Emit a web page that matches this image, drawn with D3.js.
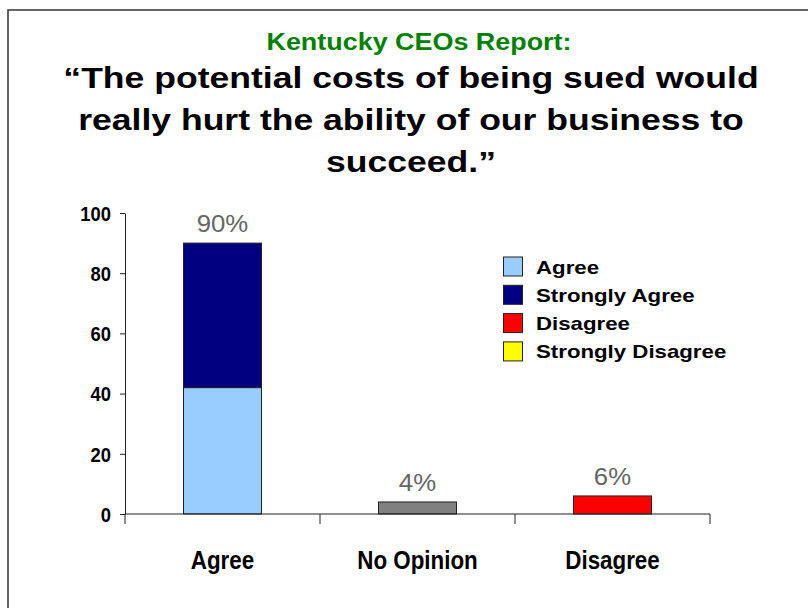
<!DOCTYPE html>
<html>
<head>
<meta charset="utf-8">
<script src="https://cdn.jsdelivr.net/npm/d3@7"></script>
<style>
  html, body { margin: 0; padding: 0; background: #fff; }
  svg { display: block; font-family: "Liberation Sans", Arial, Helvetica, sans-serif; }
</style>
</head>
<body>
<svg id="chart" width="808" height="608"></svg>
<script>
// Survey answers, percent of respondents
const categories = ["Agree", "No Opinion", "Disagree"];
const seriesNames = ["Agree", "Strongly Agree", "No Opinion", "Disagree", "Strongly Disagree"];
const agreeValues = [42, 0, 0];
const stronglyAgreeValues = [48, 0, 0];
const noOpinionValues = [0, 4, 0];
const disagreeValues = [0, 0, 6];
const stronglyDisagreeValues = [0, 0, 0];
const seriesColors = ["#99ccff", "#000080", "#808080", "#ff0000", "#ffff00"];
const legendNames = ["Agree", "Strongly Agree", "Disagree", "Strongly Disagree"];
const legendColors = ["#99ccff", "#000080", "#ff0000", "#ffff00"];
const yTicks = [0, 20, 40, 60, 80, 100];
const subtitle = "Kentucky CEOs Report:";
const titleLines = ["\u201CThe potential costs of being sued would",
                    "really hurt the ability of our business to",
                    "succeed.\u201D"];

const svg = d3.select("#chart");

// stretch or squeeze a text run horizontally by factor k
function widen(sel, k) {
  sel.each(function () {
    const w = this.getComputedTextLength();
    d3.select(this).attr("textLength", w * k).attr("lengthAdjust", "spacingAndGlyphs");
  });
}

// slide frame
svg.append("path")
  .attr("d", "M8,608 V10 H808")
  .attr("fill", "none")
  .attr("stroke", "#333")
  .attr("stroke-width", 1.5);

// headings
svg.append("text")
  .attr("x", 419).attr("y", 50)
  .attr("text-anchor", "middle")
  .attr("font-size", 23).attr("font-weight", "bold")
  .attr("fill", "#008000")
  .text(subtitle)
  .call(widen, 1.17);

svg.selectAll("text.title")
  .data(titleLines)
  .join("text")
  .attr("class", "title")
  .attr("x", 411)
  .attr("y", (d, i) => 88 + i * 42)
  .attr("text-anchor", "middle")
  .attr("font-size", 30).attr("font-weight", "bold")
  .attr("fill", "#000")
  .text(d => d)
  .call(widen, 1.185);

// scales
const x = d3.scaleBand().domain(categories).range([125, 710]).paddingInner(0).paddingOuter(0);
const y = d3.scaleLinear().domain([0, 100]).range([514, 213]);
const barW = x.bandwidth() * 0.4;

// stacked data
const rows = categories.map((c, i) => ({
  category: c,
  "Agree": agreeValues[i],
  "Strongly Agree": stronglyAgreeValues[i],
  "No Opinion": noOpinionValues[i],
  "Disagree": disagreeValues[i],
  "Strongly Disagree": stronglyDisagreeValues[i]
}));
const stack = d3.stack().keys(seriesNames)(rows);

const bars = svg.append("g");
stack.forEach((layer, si) => {
  bars.selectAll(null)
    .data(layer.filter(d => d[1] - d[0] > 0))
    .join("rect")
    .attr("x", d => x(d.data.category) + (x.bandwidth() - barW) / 2)
    .attr("y", d => y(d[1]))
    .attr("width", barW)
    .attr("height", d => y(d[0]) - y(d[1]))
    .attr("fill", seriesColors[si])
    .attr("stroke", "#222")
    .attr("stroke-width", 1);
});

// total labels above each column
const totals = rows.map(r => seriesNames.reduce((s, k) => s + r[k], 0));
svg.append("g").selectAll("text")
  .data(categories)
  .join("text")
  .attr("x", c => x(c) + x.bandwidth() / 2)
  .attr("y", (c, i) => y(totals[i]) - 11)
  .attr("text-anchor", "middle")
  .attr("font-size", 23)
  .attr("fill", "#666")
  .text((c, i) => totals[i] + "%")
  .call(widen, 1.12);

// y axis
const yAxis = svg.append("g")
  .attr("transform", "translate(125,0)")
  .call(d3.axisLeft(y).tickValues(yTicks).tickSize(5).tickPadding(9).tickSizeOuter(0));
yAxis.select(".domain").attr("stroke", "#222");
yAxis.selectAll(".tick line").attr("stroke", "#222");
yAxis.selectAll(".tick text")
  .attr("font-family", "\"Liberation Sans\", Arial, sans-serif")
  .attr("font-size", 20).attr("font-weight", "bold").attr("fill", "#000")
  .attr("dy", "0.36em")
  .call(widen, 0.92);

// x axis with ticks at category boundaries
const xAxisG = svg.append("g");
xAxisG.append("line")
  .attr("x1", 125).attr("x2", 710)
  .attr("y1", y(0)).attr("y2", y(0))
  .attr("stroke", "#222");
const bounds = categories.map(c => x(c)).concat([x(categories[categories.length - 1]) + x.bandwidth()]);
xAxisG.selectAll("line.tk")
  .data(bounds)
  .join("line")
  .attr("class", "tk")
  .attr("x1", d => d).attr("x2", d => d)
  .attr("y1", y(0)).attr("y2", y(0) + 10)
  .attr("stroke", "#222");
xAxisG.selectAll("text")
  .data(categories)
  .join("text")
  .attr("x", c => x(c) + x.bandwidth() / 2)
  .attr("y", 569)
  .attr("text-anchor", "middle")
  .attr("font-size", 26).attr("font-weight", "bold")
  .attr("fill", "#000")
  .text(c => c)
  .call(widen, 0.86);

// legend
const legend = svg.append("g");
legendNames.forEach((name, i) => {
  const cy = 267 + i * 28.3;
  legend.append("rect")
    .attr("x", 503.5).attr("y", cy - 10)
    .attr("width", 19).attr("height", 19)
    .attr("fill", legendColors[i])
    .attr("stroke", "#222").attr("stroke-width", 1);
  legend.append("text")
    .attr("x", 536).attr("y", cy + 6.5)
    .attr("font-size", 19).attr("font-weight", "bold")
    .attr("fill", "#000")
    .text(name)
    .call(widen, 1.17);
});
</script>
</body>
</html>
